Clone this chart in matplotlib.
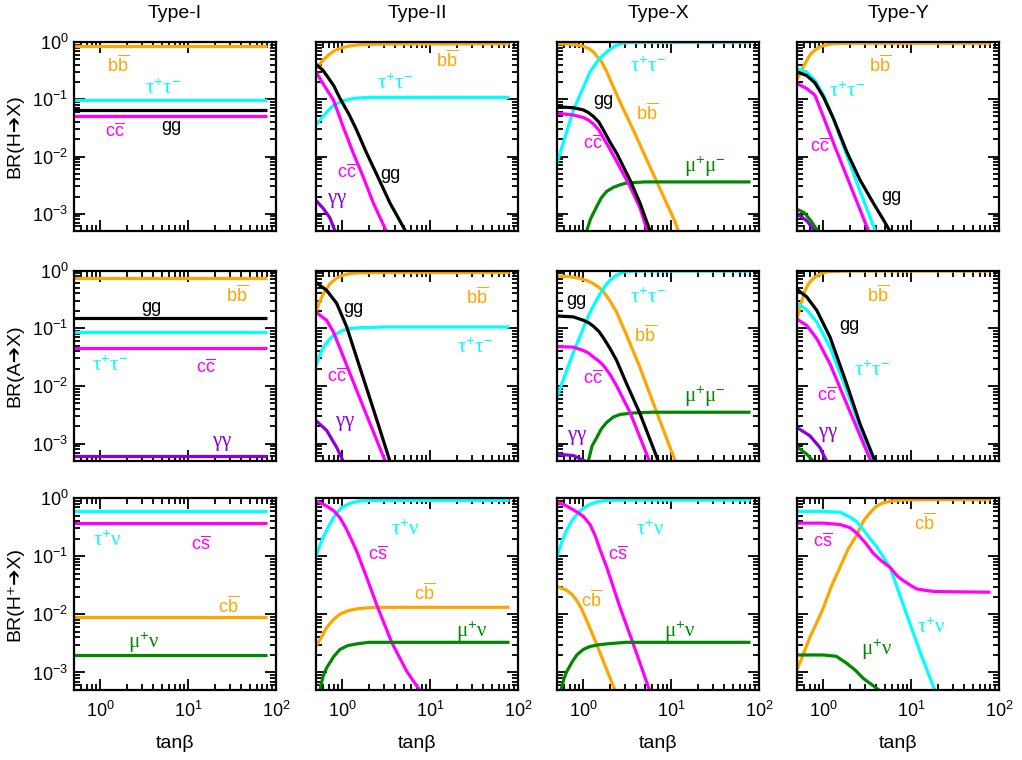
import matplotlib
matplotlib.use('Agg')
import matplotlib.pyplot as plt
from matplotlib.ticker import LogLocator, NullFormatter

plt.rcParams['font.family'] = ['Liberation Sans', 'DejaVu Sans']
plt.rcParams['mathtext.fontset'] = 'custom'
plt.rcParams['mathtext.rm'] = 'Liberation Serif'
plt.rcParams['mathtext.sf'] = 'Liberation Sans'
plt.rcParams['mathtext.it'] = 'Liberation Serif:italic'

# ---------------- data (tan(beta), branching ratio) ----------------
tanb_span = [0.5, 80]

# row 1: H -> X
typeI_H = {'bb': 0.85, 'tautau': 0.097, 'cc': 0.052, 'gg': 0.066}

typeII_H = {
    'bb': ([0.5, 0.6, 0.7, 0.8, 1.0, 1.2, 1.5, 2.0, 3.0, 80],
           [0.34, 0.48, 0.60, 0.70, 0.80, 0.85, 0.89, 0.91, 0.92, 0.93]),
    'tautau': ([0.5, 0.6, 0.7, 0.8, 1.0, 1.2, 1.5, 2.0, 80],
               [0.036, 0.050, 0.065, 0.079, 0.093, 0.100, 0.105, 0.108, 0.108]),
    'cc': ([0.5, 0.6, 0.79, 1.02, 1.33, 1.66, 2.25, 3.2],
           [0.30, 0.188, 0.097, 0.033, 0.0114, 0.0051, 0.00154, 0.00048]),
    'gg': ([0.5, 0.6, 0.7, 0.8, 0.94, 1.2, 1.45, 1.89, 2.5, 3.48, 4.3, 5.3],
           [0.41, 0.32, 0.23, 0.17, 0.103, 0.053, 0.029, 0.0114, 0.0046, 0.00154, 0.00086, 0.00048]),
    'aa': ([0.5, 0.6, 0.72, 0.83], [0.0017, 0.00126, 0.00085, 0.00048]),
}

typeX_H = {
    'bb': ([0.5, 0.65, 0.8, 1.0, 1.15, 1.3, 1.61, 1.85, 2.1, 2.7, 3.7, 6.8, 11.0, 12.2],
           [0.93, 0.92, 0.90, 0.84, 0.77, 0.67, 0.45, 0.30, 0.19, 0.08, 0.029, 0.0037, 0.00074, 0.00048]),
    'tautau': ([0.5, 0.77, 1.19, 1.5, 1.84, 2.3, 2.85, 3.5, 80],
               [0.0077, 0.065, 0.30, 0.50, 0.67, 0.86, 0.96, 0.98, 0.99]),
    'mumu': ([1.08, 1.2, 1.42, 1.6, 1.84, 2.2, 2.61, 3.0, 3.7, 5.0, 80],
             [0.00048, 0.0008, 0.00135, 0.0019, 0.00246, 0.0029, 0.0032, 0.0034, 0.0035, 0.0036, 0.0036]),
    'cc': ([0.5, 0.77, 1.0, 1.15, 1.3, 1.5, 1.69, 2.0, 2.39, 3.39, 4.41, 5.4],
           [0.057, 0.053, 0.048, 0.043, 0.037, 0.029, 0.021, 0.0135, 0.0082, 0.003, 0.00126, 0.00048]),
    'gg': ([0.5, 0.77, 1.0, 1.15, 1.3, 1.5, 1.69, 2.0, 2.39, 3.39, 4.41, 5.8],
           [0.074, 0.071, 0.065, 0.058, 0.050, 0.040, 0.029, 0.018, 0.0114, 0.0039, 0.00154, 0.00048]),
}

typeY_H = {
    'bb': ([0.5, 0.55, 0.59, 0.65, 0.70, 0.8, 0.91, 1.1, 1.3, 1.84, 80],
           [0.22, 0.29, 0.37, 0.48, 0.59, 0.72, 0.82, 0.90, 0.93, 0.95, 0.95]),
    'tautau': ([0.5, 0.644, 0.80, 1.0, 1.30, 1.84, 2.61, 3.95],
               [0.34, 0.30, 0.215, 0.118, 0.046, 0.0107, 0.0025, 0.00048]),
    'cc': ([0.5, 0.644, 0.80, 0.914, 1.09, 1.355, 3.3],
           [0.188, 0.154, 0.118, 0.070, 0.035, 0.0147, 0.00048]),
    'gg': ([0.5, 0.644, 0.80, 1.0, 1.30, 1.84, 2.61, 3.70, 4.81, 5.8],
           [0.30, 0.26, 0.194, 0.110, 0.046, 0.0122, 0.0039, 0.00154, 0.00079, 0.00048]),
    'aa': ([0.5, 0.65, 0.81], [0.001, 0.00075, 0.00048]),
    'mumu': ([0.5, 0.6, 0.7, 0.88], [0.0012, 0.00105, 0.0008, 0.00048]),
}

# row 2: A -> X
typeI_A = {'bb': 0.73, 'gg': 0.152, 'tautau': 0.085, 'cc': 0.045, 'aa': 0.00062}

typeII_A = {
    'bb': ([0.5, 0.55, 0.61, 0.72, 0.85, 1.02, 1.25, 1.58, 3.0, 80],
           [0.19, 0.29, 0.40, 0.59, 0.73, 0.83, 0.89, 0.91, 0.92, 0.92]),
    'tautau': ([0.5, 0.55, 0.61, 0.7, 0.79, 1.02, 1.25, 1.58, 3.0, 80],
               [0.0226, 0.034, 0.047, 0.062, 0.075, 0.092, 0.099, 0.102, 0.105, 0.105]),
    'cc': ([0.5, 0.66, 0.79, 1.0, 1.5, 2.0, 3.1],
           [0.19, 0.137, 0.086, 0.035, 0.0074, 0.0025, 0.00048]),
    'gg': ([0.5, 0.66, 0.86, 1.12, 1.5, 2.0, 2.6, 3.5],
           [0.62, 0.455, 0.27, 0.105, 0.0265, 0.0069, 0.002, 0.00048]),
    'aa': ([0.5, 0.66, 0.86, 1.03], [0.0025, 0.0017, 0.00086, 0.00048]),
}

typeX_A = {
    'bb': ([0.5, 0.7, 0.91, 1.1, 1.30, 1.5, 1.69, 2.0, 2.39, 3.11, 4.41, 6.83, 11.2],
           [0.80, 0.78, 0.73, 0.67, 0.59, 0.51, 0.43, 0.30, 0.19, 0.075, 0.0208, 0.0035, 0.00048]),
    'tautau': ([0.5, 0.77, 1.19, 1.45, 1.69, 2.0, 2.39, 2.75, 3.11, 4.5, 80],
               [0.0064, 0.0385, 0.19, 0.33, 0.49, 0.68, 0.83, 0.92, 0.97, 0.98, 0.98]),
    'mumu': ([1.13, 1.25, 1.42, 1.6, 1.84, 2.2, 2.61, 3.7, 6.0, 80],
             [0.00048, 0.0009, 0.00128, 0.0018, 0.00233, 0.0029, 0.0032, 0.0034, 0.0035, 0.0035]),
    'cc': ([0.5, 0.77, 1.0, 1.15, 1.30, 1.5, 1.69, 2.0, 2.39, 3.39, 5.7],
           [0.048, 0.047, 0.041, 0.037, 0.0315, 0.027, 0.0226, 0.016, 0.010, 0.0035, 0.00048]),
    'gg': ([0.5, 0.77, 1.0, 1.15, 1.30, 1.5, 1.69, 2.0, 2.39, 3.11, 4.41, 7.2],
           [0.163, 0.157, 0.137, 0.124, 0.108, 0.088, 0.068, 0.045, 0.0276, 0.0108, 0.0033, 0.00048]),
    'aa': ([0.5, 0.77, 1.1], [0.00066, 0.00062, 0.00048]),
}

typeY_A = {
    'bb': ([0.5, 0.52, 0.54, 0.58, 0.62, 0.68, 0.77, 0.9, 1.09, 1.84, 80],
           [0.146, 0.18, 0.23, 0.33, 0.455, 0.60, 0.73, 0.86, 0.95, 0.98, 0.98]),
    'tautau': ([0.5, 0.644, 0.84, 1.19, 1.84, 2.61, 3.75],
               [0.27, 0.21, 0.128, 0.047, 0.0083, 0.0019, 0.00048]),
    'cc': ([0.5, 0.644, 0.84, 1.19, 1.84, 3.5],
           [0.143, 0.112, 0.066, 0.024, 0.0049, 0.00048]),
    'gg': ([0.5, 0.644, 0.84, 1.19, 1.84, 2.61, 3.9],
           [0.47, 0.35, 0.204, 0.070, 0.0108, 0.0022, 0.00048]),
    'aa': ([0.5, 0.70, 0.91, 1.1], [0.0019, 0.00137, 0.00086, 0.00048]),
    'mumu': ([0.5, 0.644, 0.78], [0.00088, 0.00066, 0.00048]),
}

# row 3: H+ -> X
typeI_Hp = {'taunu': 0.59, 'cs': 0.37, 'cb': 0.0089, 'munu': 0.002}

typeII_Hp = {
    'cb': ([0.5, 0.58, 0.66, 0.8, 0.94, 1.15, 1.45, 2.0, 2.45, 80],
           [0.00285, 0.0041, 0.0059, 0.0083, 0.0101, 0.0115, 0.0124, 0.013, 0.0132, 0.0132]),
    'taunu': ([0.5, 0.55, 0.61, 0.7, 0.79, 0.9, 1.02, 1.25, 1.58, 2.2, 80],
              [0.098, 0.15, 0.218, 0.33, 0.455, 0.60, 0.71, 0.82, 0.89, 0.91, 0.91]),
    'cs': ([0.5, 0.66, 0.8, 0.94, 1.1, 1.25, 1.45, 1.89, 2.5, 3.64, 5.4, 7.7],
           [0.89, 0.73, 0.60, 0.455, 0.30, 0.20, 0.123, 0.043, 0.0136, 0.0033, 0.00105, 0.00048]),
    'munu': ([0.55, 0.6, 0.66, 0.8, 0.94, 1.15, 1.45, 2.0, 80],
             [0.00048, 0.00085, 0.0012, 0.0019, 0.0025, 0.0029, 0.0031, 0.0033, 0.0033]),
}

typeX_Hp = {
    'cb': ([0.5, 0.644, 0.74, 0.84, 0.95, 1.09, 1.25, 1.42, 2.3],
           [0.030, 0.026, 0.022, 0.0173, 0.0125, 0.0078, 0.0048, 0.003, 0.00048]),
    'taunu': ([0.5, 0.57, 0.644, 0.75, 0.875, 1.0, 1.19, 1.45, 1.84, 3.0, 80],
              [0.098, 0.18, 0.28, 0.42, 0.556, 0.67, 0.78, 0.86, 0.91, 0.92, 0.92]),
    'cs': ([0.5, 0.644, 0.875, 1.0, 1.19, 1.37, 1.55, 1.84, 2.61, 3.64, 5.7],
           [0.85, 0.73, 0.556, 0.48, 0.35, 0.22, 0.128, 0.065, 0.0132, 0.0033, 0.00048]),
    'munu': ([0.55, 0.6, 0.644, 0.74, 0.84, 1.0, 1.19, 1.5, 1.84, 3.0, 80],
             [0.00048, 0.00078, 0.00103, 0.0015, 0.002, 0.0025, 0.0028, 0.003, 0.0031, 0.0033, 0.0033]),
}

typeY_Hp = {
    'cb': ([0.5, 0.6, 0.70, 0.85, 1.0, 1.25, 1.55, 1.9, 2.39, 2.85, 3.39, 4.0, 4.81, 6.0, 7.45, 10, 15, 80],
           [0.00112, 0.0022, 0.004, 0.0075, 0.013, 0.032, 0.065, 0.13, 0.23, 0.40, 0.556, 0.72, 0.83,
            0.89, 0.92, 0.93, 0.94, 0.94]),
    'taunu': ([0.5, 1.0, 1.55, 2.0, 2.4, 2.85, 3.4, 4.04, 5.73, 7.0, 10, 13, 18.7],
              [0.59, 0.59, 0.57, 0.47, 0.39, 0.285, 0.20, 0.146, 0.064, 0.0276, 0.006, 0.002, 0.00048]),
    'cs': ([0.5, 1.0, 1.55, 2.0, 2.39, 3.0, 3.7, 4.5, 5.73, 7.0, 8.13, 10, 11.5, 14, 17.9, 25, 80],
           [0.37, 0.37, 0.35, 0.31, 0.25, 0.17, 0.112, 0.085, 0.064, 0.045, 0.038, 0.031, 0.0274,
            0.026, 0.0248, 0.0245, 0.024]),
    'munu': ([0.5, 1.0, 1.4, 1.84, 2.3, 2.85, 3.5, 4.45],
             [0.002, 0.002, 0.0019, 0.00144, 0.0011, 0.00079, 0.00063, 0.00048]),
}

col_titles = ['Type-I', 'Type-II', 'Type-X', 'Type-Y']
row_ylabels = ['BR(H\u2794X)', 'BR(A\u2794X)', 'BR(H\u207a\u2794X)']

# ---------------- styling ----------------
colors = {'bb': '#FFA500', 'cb': '#FFA500', 'tautau': '#00FFFF', 'taunu': '#00FFFF',
          'cc': '#FF00FF', 'cs': '#FF00FF', 'gg': 'black', 'mumu': '#008800',
          'munu': '#008800', 'aa': '#8B00D6'}

names = {
    'bb': r'$\mathsf{b\overline{b}}$',
    'cc': r'$\mathsf{c\overline{c}}$',
    'cs': r'$\mathsf{c\overline{s}}$',
    'cb': r'$\mathsf{c\overline{b}}$',
    'gg': 'gg',
    'tautau': r'$\mathrm{\tau}^{\mathsf{+}}\mathrm{\tau}^{\mathsf{-}}$',
    'mumu': r'$\mathrm{\mu}^{\mathsf{+}}\mathrm{\mu}^{\mathsf{-}}$',
    'taunu': r'$\mathrm{\tau}^{\mathsf{+}}\mathrm{\nu}$',
    'munu': r'$\mathrm{\mu}^{\mathsf{+}}\mathrm{\nu}$',
    'aa': r'$\mathrm{\gamma\gamma}$',
}
greek = {'tautau', 'mumu', 'taunu', 'munu', 'aa'}

# curve label placement per panel (tan(beta), BR)
label_pos = [
    [{'bb': (1.6, 0.39), 'tautau': (5.2, 0.155), 'gg': (6.5, 0.033), 'cc': (1.47, 0.027)},
     {'bb': (15.4, 0.48), 'tautau': (4.0, 0.19), 'cc': (1.12, 0.0051), 'gg': (3.5, 0.0048), 'aa': (0.86, 0.0017)},
     {'tautau': (5.5, 0.37), 'gg': (1.69, 0.097), 'bb': (5.25, 0.057), 'cc': (1.30, 0.017), 'mumu': (24.3, 0.0067)},
     {'bb': (4.4, 0.39), 'tautau': (1.84, 0.135), 'cc': (0.914, 0.015), 'gg': (6.0, 0.002)}],
    [{'bb': (36, 0.37), 'gg': (3.8, 0.23), 'tautau': (1.29, 0.0226), 'cc': (15.9, 0.021), 'aa': (24, 0.001)},
     {'bb': (33.8, 0.35), 'gg': (1.33, 0.22), 'tautau': (32.4, 0.047), 'cc': (0.86, 0.0145), 'aa': (1.07, 0.0022)},
     {'gg': (0.84, 0.30), 'tautau': (5.5, 0.35), 'bb': (5.0, 0.075), 'cc': (1.30, 0.0132), 'mumu': (24.3, 0.0064), 'aa': (0.84, 0.00128)},
     {'bb': (4.2, 0.37), 'gg': (2.0, 0.112), 'tautau': (3.54, 0.0185), 'cc': (1.09, 0.0068), 'aa': (1.14, 0.00146)}],
    [{'taunu': (1.18, 0.19), 'cs': (14, 0.156), 'cb': (28.6, 0.014), 'munu': (3.08, 0.0033)},
     {'taunu': (5.2, 0.285), 'cs': (2.56, 0.105), 'cb': (8.7, 0.0226), 'munu': (29.6, 0.0051)},
     {'taunu': (5.73, 0.285), 'cs': (2.5, 0.105), 'cb': (1.24, 0.0173), 'munu': (12.6, 0.0051)},
     {'cb': (14.3, 0.37), 'cs': (1.0, 0.18), 'taunu': (17.1, 0.0059), 'munu': (4.04, 0.0025)}],
]

panels = [[typeI_H, typeII_H, typeX_H, typeY_H],
          [typeI_A, typeII_A, typeX_A, typeY_A],
          [typeI_Hp, typeII_Hp, typeX_Hp, typeY_Hp]]

W, H = 1022, 760
lefts = [74, 316, 557, 797]
tops = [42, 270.5, 498]
heights = [189, 190.5, 192]
pw = 202

fig = plt.figure(figsize=(W / 100, H / 100), dpi=100)

for r in range(3):
    for c in range(4):
        ax = fig.add_axes([lefts[c] / W, 1 - (tops[r] + heights[r]) / H, pw / W, heights[r] / H])
        data = panels[r][c]
        for key, val in data.items():
            if isinstance(val, tuple):
                xs, ys = val
            else:
                xs, ys = tanb_span, [val, val]
            ax.plot(xs, ys, color=colors[key], lw=2.3, solid_capstyle='butt',
                    solid_joinstyle='round')
        for key, (lx, ly) in label_pos[r][c].items():
            ax.text(lx, ly, names[key], color=colors[key],
                    fontsize=15 if key in greek else 13, ha='center', va='center')
        ax.set_xscale('log')
        ax.set_yscale('log')
        ax.set_xlim(0.5, 100)
        ax.set_ylim(5e-4, 1.0)
        ax.xaxis.set_major_locator(LogLocator(base=10))
        ax.xaxis.set_minor_locator(LogLocator(base=10, subs=range(2, 10)))
        ax.yaxis.set_major_locator(LogLocator(base=10))
        ax.yaxis.set_minor_locator(LogLocator(base=10, subs=range(2, 10)))
        ax.xaxis.set_minor_formatter(NullFormatter())
        ax.yaxis.set_minor_formatter(NullFormatter())
        for sp in ax.spines.values():
            sp.set_linewidth(1.6)
        ax.tick_params(which='both', direction='in', top=True, right=True,
                       labelsize=13, width=1.3)
        ax.tick_params(which='major', length=8)
        ax.tick_params(which='minor', length=4)
        ax.tick_params(axis='y', pad=4)
        ax.tick_params(axis='x', pad=8)
        ax.tick_params(labelleft=(c == 0), labelbottom=(r == 2))

for c in range(4):
    xc = (lefts[c] + pw / 2) / W
    fig.text(xc, 1 - 13 / H, col_titles[c], fontsize=14, ha='center', va='center')
    fig.text(xc, 1 - 743 / H, 'tan\u03b2', fontsize=14, ha='center', va='center')

for r in range(3):
    yc = 1 - (tops[r] + heights[r] / 2) / H
    fig.text(15 / W, yc, row_ylabels[r], fontsize=14, rotation=90, ha='center', va='center')

fig.savefig('out.png', dpi=100)
